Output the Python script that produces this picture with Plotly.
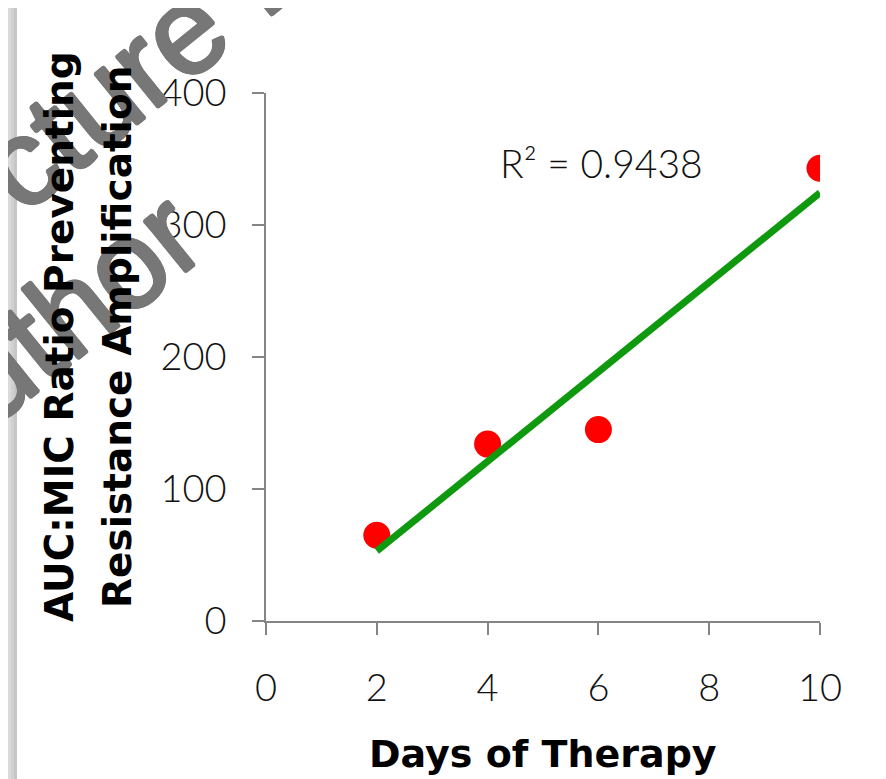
import numpy as np
import plotly.graph_objects as go

# ---- data ----
days = [2, 4, 6, 10]
auc_mic = [65, 134, 145, 343]
r2_label = "R² = 0.9438"
x_title = "Days of Therapy"
y_title_1 = "AUC:MIC Ratio Preventing"
y_title_2 = "Resistance Amplification"
watermark_1 = "cture E"
watermark_2 = "uthor"

# linear trend line fitted to the data
slope, intercept = np.polyfit(days, auc_mic, 1)
fit_x = [min(days), max(days)]
fit_y = [slope * v + intercept for v in fit_x]

OFF = 8  # page body margin
W, H = 886 - OFF, 779 - OFF
L, R, T, B = 266 - OFF, 66, 93 - OFF, 158
PW, PH = W - L - R, H - T - B


def px(xpix):
    return (xpix - OFF - L) / PW


def py(ypix):
    return (H - B - (ypix - OFF)) / PH


fig = go.Figure()
fig.add_trace(go.Scatter(
    x=days, y=auc_mic, mode="markers",
    marker=dict(color="#ff0000", size=27, line=dict(width=0)),
    showlegend=False, hoverinfo="x+y",
))
fig.add_trace(go.Scatter(
    x=fit_x, y=fit_y, mode="lines",
    line=dict(color="#0f990f", width=7),
    showlegend=False, hoverinfo="skip",
))

tick_font = dict(family="Lato, Liberation Sans, sans-serif", size=38, color="#111111", weight=300)
axis_common = dict(
    showline=True, linecolor="#858585", linewidth=1.5,
    ticks="outside", ticklen=12, tickwidth=1.5, tickcolor="#858585",
    showgrid=False, zeroline=False, tickfont=tick_font,
)
fig.update_xaxes(range=[0, 10], dtick=2, tick0=0, ticklabelstandoff=21, **axis_common)
fig.update_yaxes(range=[0, 400], dtick=100, tick0=0, ticklabelstandoff=18, **axis_common)

title_font = dict(family="DejaVu Sans, sans-serif", size=39, color="#000000", weight="bold")
xtitle_font = dict(family="DejaVu Sans, sans-serif", size=38, color="#000000", weight="bold")
wm_col = "#777777"
wm_font = dict(
    family="Liberation Sans, Arial, sans-serif", size=124, color=wm_col,
    shadow=(f"1.6px 0 0 {wm_col}, -1.6px 0 0 {wm_col}, 0 1.6px 0 {wm_col}, "
            f"0 -1.6px 0 {wm_col}, 1.1px 1.1px 0 {wm_col}, -1.1px -1.1px 0 {wm_col}, "
            f"1.1px -1.1px 0 {wm_col}, -1.1px 1.1px 0 {wm_col}"),
)

annotations = [
    # watermark (drawn first, beneath the titles)
    dict(text=watermark_1, x=px(148), y=py(60), xref="paper", yref="paper",
         showarrow=False, textangle=-39, font=wm_font, xanchor="center", yanchor="middle"),
    dict(text=watermark_2, x=px(74), y=py(307), xref="paper", yref="paper",
         showarrow=False, textangle=-39, font=wm_font, xanchor="center", yanchor="middle"),
    # axis titles
    dict(text=y_title_1, x=px(59), y=py(337), xref="paper", yref="paper",
         showarrow=False, textangle=-90, font=title_font, xanchor="center", yanchor="middle"),
    dict(text=y_title_2, x=px(117), y=py(337), xref="paper", yref="paper",
         showarrow=False, textangle=-90, font=title_font, xanchor="center", yanchor="middle"),
    dict(text=x_title, x=0.5, y=py(754), xref="paper", yref="paper",
         showarrow=False, font=xtitle_font, xanchor="center", yanchor="middle"),
    # R squared label
    dict(text=r2_label, x=6.05, y=347, xref="x", yref="y", showarrow=False,
         font=dict(family="Lato, Liberation Sans, sans-serif", size=39, color="#111111", weight=300),
         xanchor="center", yanchor="middle"),
]

# slide frame (gray edges)
shapes = []
left_strip = [(8, 11, "#dadada"), (11, 14, "#d0d0d0"), (14, 17, "#c6c6c6")]
for x0, x1, c in left_strip:
    shapes.append(dict(type="rect", xref="paper", yref="paper",
                       x0=px(x0), x1=px(x1), y0=py(779), y1=py(OFF),
                       fillcolor=c, line=dict(width=0), layer="below"))
shapes.append(dict(type="rect", xref="paper", yref="paper",
                   x0=px(882), x1=px(886), y0=py(779), y1=py(OFF),
                   fillcolor="#7a7a7a", line=dict(width=0), layer="below"))

fig.update_layout(
    width=W, height=H,
    margin=dict(l=L, r=R, t=T, b=B, pad=0),
    paper_bgcolor="#ffffff", plot_bgcolor="#ffffff",
    annotations=annotations, shapes=shapes,
    showlegend=False,
)

fig.write_html("out.html")
